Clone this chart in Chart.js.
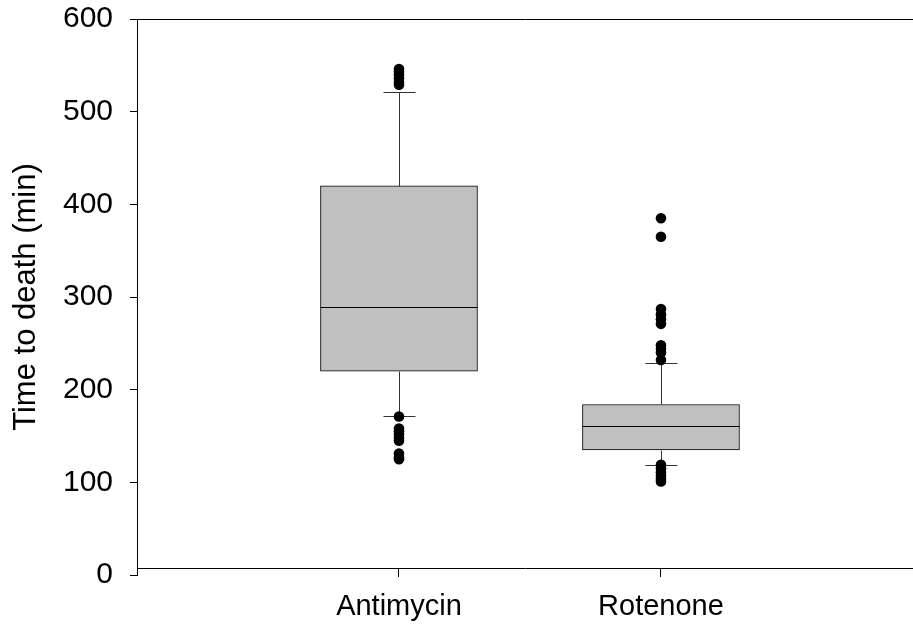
<!DOCTYPE html>
<html>
<head>
<meta charset="utf-8">
<script src="https://cdn.jsdelivr.net/npm/chart.js@4/dist/chart.umd.min.js"></script>
<style>
  html, body { margin: 0; padding: 0; background: #ffffff; }
  #wrap { width: 913px; height: 628px; }
</style>
</head>
<body>
<div id="wrap"><canvas id="chart" width="913" height="628"></canvas></div>
<script>
// Time to death per treatment: box summaries and individual outliers
const categories = ['Antimycin', 'Rotenone'];
const q1 = [220, 135];
const medians = [289, 161];
const q3 = [420, 184];
const whiskerLow = [172, 119];
const whiskerHigh = [521, 229];
const antimycinOutliers = [546, 543, 540, 536, 532, 529, 171, 158, 155, 152, 148, 145, 131, 127, 125];
const rotenoneOutliers = [385, 365, 287, 281, 276, 271, 248, 244, 240, 232, 119, 115, 111, 107, 104, 101];
const yTicks = [0, 100, 200, 300, 400, 500, 600];

const FAMILY = '"Liberation Sans", Arial, Helvetica, sans-serif';

const boxData = categories.map((c, i) => ({ x: i + 1, y: [q1[i], q3[i]] }));
const outlierData = [];
[antimycinOutliers, rotenoneOutliers].forEach((arr, i) => {
  arr.forEach(v => outlierData.push({ x: i + 1, y: v }));
});

// Whiskers, caps and median lines, drawn right after the boxes
const boxWhiskers = {
  id: 'boxWhiskers',
  afterDatasetDraw(chart, args) {
    if (args.index !== 0) return;
    const { ctx } = chart;
    const y = chart.scales.y;
    const bars = chart.getDatasetMeta(0).data;
    const capHalf = 16;
    ctx.save();
    ctx.lineWidth = 1;
    categories.forEach((c, i) => {
      const bar = bars[i];
      const cx = Math.round(bar.x) + 0.5;
      const left = bar.x - bar.width / 2;
      const right = bar.x + bar.width / 2;
      const py = v => Math.round(y.getPixelForValue(v)) + 0.5;
      ctx.strokeStyle = '#333333';
      ctx.beginPath();
      ctx.moveTo(cx, py(q3[i])); ctx.lineTo(cx, py(whiskerHigh[i]));
      ctx.moveTo(cx, py(q1[i])); ctx.lineTo(cx, py(whiskerLow[i]));
      ctx.moveTo(cx - capHalf, py(whiskerHigh[i])); ctx.lineTo(cx + capHalf, py(whiskerHigh[i]));
      ctx.moveTo(cx - capHalf, py(whiskerLow[i])); ctx.lineTo(cx + capHalf, py(whiskerLow[i]));
      ctx.stroke();
      ctx.strokeStyle = '#000000';
      ctx.beginPath();
      ctx.moveTo(left, py(medians[i])); ctx.lineTo(right, py(medians[i]));
      ctx.stroke();
    });
    ctx.restore();
  }
};

new Chart(document.getElementById('chart'), {
  type: 'scatter',
  data: {
    datasets: [
      {
        type: 'bar',
        label: 'Box',
        data: boxData,
        backgroundColor: '#c0c0c0',
        borderColor: '#000000',
        borderWidth: 1,
        borderSkipped: false,
        barThickness: 157,
        order: 2
      },
      {
        type: 'scatter',
        label: 'Outliers',
        data: outlierData,
        backgroundColor: '#000000',
        borderWidth: 0,
        pointRadius: 5.3,
        pointHoverRadius: 5.3,
        order: 1
      }
    ]
  },
  options: {
    responsive: false,
    devicePixelRatio: 1,
    animation: false,
    layout: { autoPadding: false, padding: { left: 0, right: 0, top: 19, bottom: 53 } },
    plugins: { legend: { display: false }, tooltip: { enabled: false } },
    scales: {
      x: {
        type: 'linear',
        min: 0,
        max: 2.962,
        offset: false,
        position: { y: 7.5 },
        afterBuildTicks: scale => { scale.ticks = categories.map((c, i) => ({ value: i + 1 })); },
        afterFit: scale => { scale.paddingLeft = 0; scale.paddingRight = 0; },
        ticks: {
          autoSkip: false,
          maxRotation: 0,
          padding: 14,
          color: '#000000',
          font: { family: FAMILY, size: 29 },
          callback: v => categories[Math.round(v) - 1]
        },
        grid: { drawOnChartArea: false, tickLength: 8, tickColor: '#000000', offset: false },
        border: { display: true, color: '#000000', width: 1 }
      },
      y: {
        type: 'linear',
        min: 0,
        max: 600,
        afterBuildTicks: scale => { scale.ticks = yTicks.map(v => ({ value: v })); },
        afterFit: scale => { scale.width = 137; scale.paddingTop = 0; scale.paddingBottom = 0; },
        ticks: { padding: 17, color: '#000000', font: { family: FAMILY, size: 30 } },
        grid: {
          drawOnChartArea: true,
          color: ctx => (ctx.tick && ctx.tick.value === 600 ? '#000000' : 'rgba(0,0,0,0)'),
          tickColor: '#000000',
          tickLength: 7
        },
        border: { display: true, color: '#000000', width: 1 },
        title: {
          display: true,
          text: 'Time to death (min)',
          color: '#000000',
          font: { family: FAMILY, size: 31 },
          padding: { top: 8, bottom: 0 }
        }
      }
    }
  },
  plugins: [boxWhiskers]
});
</script>
</body>
</html>
